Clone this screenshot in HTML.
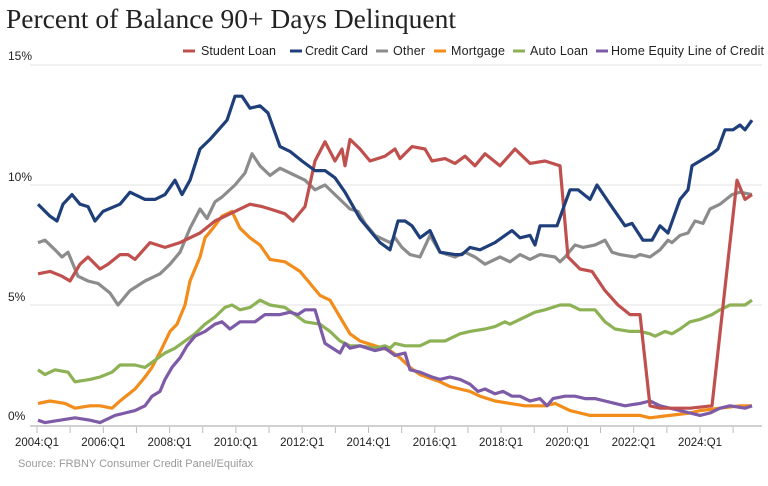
<!DOCTYPE html>
<html><head><style>
body{margin:0;background:#fff;width:768px;height:481px;overflow:hidden}
</style></head><body>
<svg width="768" height="481" xmlns="http://www.w3.org/2000/svg" font-family="Liberation Sans, sans-serif">
<text x="6" y="28" font-family="Liberation Serif, serif" font-size="27.5" fill="#222">Percent of Balance 90+ Days Delinquent</text>
<g stroke="#e3e3e3" stroke-width="1">
<line x1="30" x2="762" y1="65" y2="65"/><line x1="30" x2="762" y1="185" y2="185"/><line x1="30" x2="762" y1="305" y2="305"/>
</g>
<line x1="30" x2="762" y1="426" y2="426" stroke="#d0d0d0" stroke-width="2"/>
<g font-size="12" fill="#222">
<text x="8" y="60">15%</text><text x="8" y="181">10%</text><text x="8" y="301">5%</text><text x="8" y="420">0%</text>
</g>
<g id="ticks" stroke="#bbb" stroke-width="1"></g>
<g id="xl" font-size="11.5" fill="#222" text-anchor="middle"></g>
<text x="18" y="467" font-size="11" fill="#999">Source: FRBNY Consumer Credit Panel/Equifax</text>
<g font-size="12.5" fill="#222">
<line x1="183" x2="195" y1="51" y2="51" stroke="#c0504d" stroke-width="3"/><text x="201" y="55" textLength="75">Student Loan</text>
<line x1="290" x2="302" y1="51" y2="51" stroke="#1f3f7a" stroke-width="3"/><text x="305" y="55" textLength="63">Credit Card</text>
<line x1="376" x2="388" y1="51" y2="51" stroke="#8c8c8c" stroke-width="3"/><text x="393" y="55" textLength="32">Other</text>
<line x1="434" x2="446" y1="51" y2="51" stroke="#f28c1b" stroke-width="3"/><text x="451" y="55" textLength="54">Mortgage</text>
<line x1="513" x2="525" y1="51" y2="51" stroke="#8db255" stroke-width="3"/><text x="530" y="55" textLength="58">Auto Loan</text>
<line x1="596" x2="608" y1="51" y2="51" stroke="#7e5ba6" stroke-width="3"/><text x="611" y="55" textLength="153">Home Equity Line of Credit</text>
</g>
<g id="lines" fill="none" stroke-width="3.2" stroke-linejoin="round"></g>
</svg>
<script>
var NS="http://www.w3.org/2000/svg";
var t=document.getElementById("ticks"),xl=document.getElementById("xl");
for(var i=0;i<=21;i++){var x=37+i*33.15;var l=document.createElementNS(NS,"line");l.setAttribute("x1",x);l.setAttribute("x2",x);l.setAttribute("y1",427);l.setAttribute("y2",433);t.appendChild(l);
if(i%2==0&&i<=20){var tx=document.createElementNS(NS,"text");tx.setAttribute("x",x);tx.setAttribute("y",446);tx.textContent=(2004+i)+":Q1";xl.appendChild(tx);}}
var S={
"#8c8c8c":[38,7.6,45,7.7,55,7.3,62,7.0,68,7.2,78,6.2,88,6.0,98,5.9,110,5.5,118,5.0,130,5.6,145,6.0,160,6.3,170,6.7,180,7.2,190,8.2,200,9.0,207,8.6,215,9.3,222,9.5,235,10.0,245,10.5,252,11.3,260,10.8,270,10.4,280,10.7,290,10.5,305,10.2,315,9.8,325,10.0,335,9.6,350,9.0,358,8.9,365,8.4,375,7.9,390,7.6,395,7.8,402,7.4,410,7.1,420,7.0,430,7.9,440,7.2,455,7.0,465,7.2,475,7.0,485,6.7,500,7.0,510,6.8,520,7.1,530,6.9,540,7.1,555,7.0,560,6.8,565,7.0,575,7.5,583,7.4,595,7.5,605,7.7,612,7.2,620,7.1,635,7.0,640,7.1,650,7.0,660,7.3,668,7.7,672,7.6,680,7.9,688,8.0,695,8.5,703,8.4,710,9.0,720,9.2,732,9.6,740,9.7,752,9.6],
"#f28c1b":[38,0.9,50,1.0,65,0.9,75,0.7,90,0.8,100,0.8,112,0.7,120,1.0,135,1.5,145,2.0,152,2.4,162,3.2,170,3.9,177,4.2,185,5.0,190,6.0,200,7.0,205,7.8,213,8.2,222,8.7,232,8.9,240,8.2,250,7.8,260,7.5,270,6.9,285,6.8,300,6.4,310,5.9,320,5.4,330,5.2,340,4.5,350,3.8,360,3.5,375,3.3,390,3.1,400,2.8,410,2.4,420,2.1,440,1.8,450,1.6,460,1.5,470,1.4,480,1.2,495,1.0,510,0.9,525,0.8,545,0.8,555,0.9,570,0.6,580,0.5,590,0.4,640,0.4,650,0.3,670,0.4,690,0.5,700,0.6,720,0.7,740,0.8,752,0.8],
"#8db255":[38,2.3,45,2.1,55,2.3,68,2.2,75,1.8,90,1.9,100,2.0,112,2.2,120,2.5,135,2.5,145,2.4,155,2.7,165,3.0,175,3.2,185,3.5,195,3.8,205,4.2,215,4.5,225,4.9,232,5.0,240,4.8,250,4.9,260,5.2,270,5.0,285,4.9,295,4.6,305,4.3,320,4.2,330,3.9,340,3.5,350,3.3,360,3.3,375,3.2,385,3.3,390,3.2,395,3.4,405,3.3,420,3.3,430,3.5,445,3.5,460,3.8,470,3.9,485,4.0,495,4.1,505,4.3,510,4.2,525,4.5,535,4.7,545,4.8,560,5.0,570,5.0,580,4.8,595,4.8,605,4.3,615,4.0,630,3.9,640,3.9,650,3.8,655,3.7,665,3.9,672,3.8,680,4.0,690,4.3,700,4.4,712,4.6,720,4.8,730,5.0,745,5.0,752,5.2],
"#7e5ba6":[38,0.2,45,0.1,60,0.2,75,0.3,90,0.2,100,0.1,105,0.2,115,0.4,125,0.5,135,0.6,145,0.8,152,1.2,160,1.4,165,1.9,172,2.4,180,2.8,187,3.3,195,3.7,205,3.9,215,4.2,222,4.3,230,4.0,240,4.3,255,4.3,265,4.6,280,4.6,290,4.7,298,4.6,305,4.8,315,4.8,325,3.4,340,3.0,345,3.4,350,3.2,360,3.3,375,3.1,385,3.2,395,2.9,405,3.0,410,2.3,420,2.2,432,2.0,440,1.9,450,2.0,460,1.9,470,1.7,478,1.4,485,1.5,495,1.3,503,1.4,512,1.2,520,1.2,530,1.0,540,1.1,547,0.8,553,1.1,565,1.2,575,1.2,585,1.1,595,1.1,605,1.0,615,0.9,625,0.8,640,0.9,650,1.0,660,0.8,670,0.7,680,0.6,690,0.5,700,0.4,710,0.5,720,0.7,730,0.8,745,0.7,752,0.8],
"#c0504d":[38,6.3,50,6.4,62,6.2,70,6.0,80,6.7,88,7.0,100,6.5,108,6.7,120,7.1,128,7.1,135,6.9,150,7.6,165,7.4,180,7.6,200,8.0,215,8.5,230,8.8,250,9.2,262,9.1,270,9.0,285,8.8,293,8.5,305,9.1,315,11.0,325,11.8,335,11.0,342,11.5,345,10.8,350,11.9,360,11.5,370,11.0,385,11.2,395,11.5,400,11.1,412,11.6,425,11.5,432,11.0,445,11.1,455,10.9,465,11.2,475,10.8,485,11.3,500,10.8,515,11.5,520,11.3,530,10.9,545,11.0,560,10.8,568,7.0,580,6.5,592,6.4,605,5.6,618,5.0,630,4.6,640,4.6,650,0.8,660,0.7,690,0.7,712,0.8,730,7.6,737,10.2,745,9.4,752,9.6],
"#1f3f7a":[38,9.2,50,8.7,57,8.5,63,9.2,72,9.6,80,9.2,88,9.1,95,8.5,103,8.9,120,9.2,130,9.7,145,9.4,155,9.4,165,9.6,175,10.2,182,9.6,190,10.2,200,11.5,210,11.9,227,12.7,235,13.7,242,13.7,250,13.2,260,13.3,268,13.0,280,11.6,290,11.4,302,11.0,315,10.6,325,10.6,335,10.3,345,9.7,360,8.6,380,7.6,390,7.3,398,8.5,405,8.5,412,8.3,420,7.8,430,8.1,440,7.2,455,7.1,462,7.1,470,7.4,480,7.3,495,7.6,505,7.9,512,8.1,520,7.8,530,7.9,535,7.5,540,8.3,550,8.3,557,8.3,563,9.0,570,9.8,578,9.8,590,9.4,597,10.0,610,9.2,625,8.3,632,8.4,643,7.7,652,7.7,660,8.3,668,8.0,680,9.4,688,9.8,692,10.8,700,11.0,712,11.3,718,11.5,725,12.3,733,12.3,740,12.5,745,12.3,752,12.7]
};
var g=document.getElementById("lines");
for(var c in S){var a=S[c],p=[];for(var i=0;i<a.length;i+=2)p.push(a[i]+","+(425-24*a[i+1]).toFixed(1));
var pl=document.createElementNS(NS,"polyline");pl.setAttribute("points",p.join(" "));pl.setAttribute("stroke",c);g.appendChild(pl);}
</script>
</body></html>
